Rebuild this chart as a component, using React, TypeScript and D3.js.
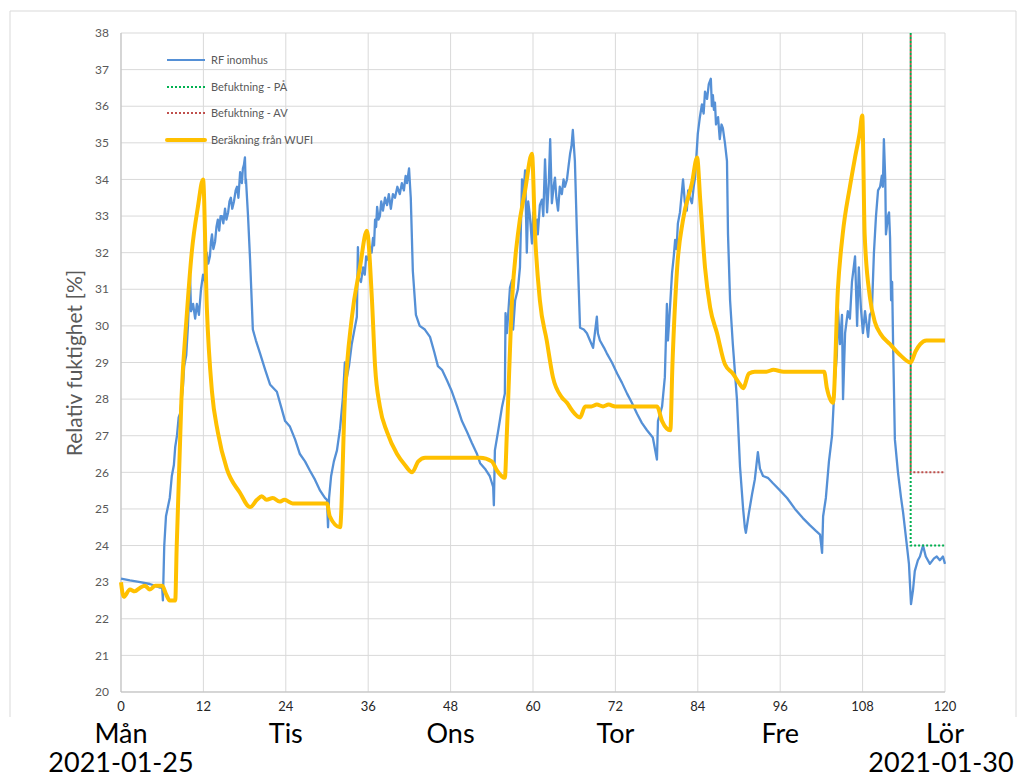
import React from "react";
import * as d3 from "d3";

// ---- Data ----
const xTicks = [0, 12, 24, 36, 48, 60, 72, 84, 96, 108, 120];
const yTicks = [20, 21, 22, 23, 24, 25, 26, 27, 28, 29, 30, 31, 32, 33, 34, 35, 36, 37, 38];
const dayLabels = [
  { h: 0, day: "Mån", date: "2021-01-25" },
  { h: 24, day: "Tis", date: "" },
  { h: 48, day: "Ons", date: "" },
  { h: 72, day: "Tor", date: "" },
  { h: 96, day: "Fre", date: "" },
  { h: 120, day: "Lör", date: "2021-01-30" },
];
const legendItems = ["RF inomhus", "Befuktning - PÅ", "Befuktning - AV", "Beräkning från WUFI"];

// RF inomhus [hour, %]
const rfInomhus: [number, number][] = [
  [0, 23.1], [1.3, 23.05], [2.8, 23.0], [4.2, 22.95], [5.7, 22.85], [6.0, 22.85], [6.1, 22.5], [6.3, 24.0],
  [6.55, 24.8], [7.1, 25.3], [7.4, 25.9], [7.7, 26.2], [7.9, 26.7], [8.15, 27.0], [8.4, 27.5], [8.6, 27.6],
  [9.0, 28.3], [9.2, 28.9], [9.5, 29.2], [9.75, 30.0], [10.05, 31.4], [10.2, 30.4], [10.5, 30.6], [10.8, 30.2],
  [11.05, 30.6], [11.35, 30.3], [11.65, 31.0], [11.95, 31.4], [12.25, 31.2], [12.4, 31.6], [12.5, 32.0],
  [12.7, 31.7], [12.95, 31.9], [13.1, 32.3], [13.25, 32.5], [13.45, 32.1], [13.7, 32.3], [13.9, 32.7],
  [14.1, 32.9], [14.3, 32.6], [14.5, 33.0], [14.7, 33.0], [14.9, 32.8], [15.15, 33.2], [15.35, 32.9],
  [15.6, 33.1], [15.8, 33.4], [16.0, 33.5], [16.2, 33.2], [16.45, 33.4], [16.7, 33.7], [16.9, 33.8],
  [17.1, 33.5], [17.35, 34.2], [17.6, 33.9], [17.75, 34.3], [17.9, 34.4], [18.05, 34.6], [18.15, 33.9],
  [18.2, 34.0], [18.5, 33.0], [18.8, 31.8], [19.2, 29.9],
  [19.65, 29.6], [20.25, 29.25], [21.0, 28.8], [21.7, 28.4], [22.7, 28.2], [23.3, 27.8], [23.9, 27.4],
  [24.6, 27.25], [25.35, 26.9], [26.05, 26.5], [26.8, 26.3], [27.5, 26.05], [28.25, 25.8], [29.0, 25.5],
  [29.7, 25.3], [30.0, 25.25], [30.15, 24.5], [30.3, 25.3], [30.6, 25.9], [31.0, 26.3], [31.45, 26.6],
  [31.9, 27.2], [32.3, 28.0], [32.6, 29.0], [32.9, 28.6], [33.2, 28.9], [33.6, 29.5], [34.1, 30.0],
  [34.35, 30.25], [34.5, 32.15], [34.65, 31.3], [34.95, 31.2], [35.25, 31.6], [35.5, 31.4], [35.7, 31.9],
  [36.0, 31.8], [36.25, 32.15], [36.5, 32.0], [36.7, 32.4], [36.85, 32.2], [37.0, 32.9], [37.15, 32.7],
  [37.3, 33.25], [37.5, 32.9], [37.7, 33.0], [37.9, 33.4], [38.15, 33.15], [38.45, 33.5], [38.75, 33.3],
  [39.0, 33.6], [39.3, 33.2], [39.6, 33.6], [39.9, 33.5], [40.25, 33.8], [40.6, 33.6], [40.9, 33.9],
  [41.2, 33.7], [41.45, 34.1], [41.65, 33.9], [41.95, 34.3], [42.1, 33.8], [42.2, 33.5],
  [42.5, 31.5], [42.95, 30.3], [43.5, 30.0], [44.25, 29.9], [45.0, 29.7], [45.6, 29.3], [46.15, 28.9],
  [46.75, 28.8], [47.5, 28.5], [48.2, 28.2], [48.95, 27.8], [49.65, 27.4], [50.4, 27.1], [51.1, 26.8],
  [51.85, 26.5], [52.3, 26.25], [53.0, 26.1], [53.7, 25.9], [54.2, 25.6], [54.3, 25.1], [54.45, 26.6],
  [54.9, 27.1], [55.5, 27.8], [55.9, 28.15], [56.0, 30.35], [56.2, 29.8], [56.65, 31.05], [56.95, 31.25],
  [57.1, 29.9], [57.4, 30.7], [57.8, 31.0], [58.1, 31.6], [58.4, 34.0], [58.6, 33.6], [58.85, 34.25],
  [59.1, 32.0], [59.3, 33.4], [59.55, 33.0], [59.85, 32.25], [60.05, 33.1], [60.3, 32.6], [60.6, 32.9],
  [60.7, 32.5], [61.0, 33.3], [61.3, 33.45], [61.5, 33.0], [61.75, 34.55], [62.05, 33.1], [62.3, 33.9],
  [62.5, 35.1], [62.75, 33.35], [63.0, 33.8], [63.2, 34.05], [63.4, 33.5], [63.65, 33.15], [63.9, 33.8],
  [64.2, 33.6], [64.45, 34.0], [64.65, 33.8], [64.95, 34.0], [65.2, 34.4], [65.4, 34.7], [65.6, 34.9],
  [65.8, 35.35], [66.1, 34.5], [66.4, 32.5], [66.85, 29.95], [67.4, 29.9],
  [67.85, 29.8], [68.3, 29.6], [68.75, 29.4], [69.3, 30.25], [69.45, 29.8], [69.75, 29.6], [70.35, 29.4],
  [70.75, 29.25], [71.5, 29.0], [72.25, 28.7], [72.95, 28.45], [73.7, 28.15], [74.4, 27.9], [75.15, 27.6],
  [75.85, 27.35], [76.6, 27.15], [77.45, 26.95], [78.05, 26.35], [78.2, 27.4], [78.8, 27.8], [79.2, 28.6],
  [79.5, 30.6], [79.65, 29.6], [79.95, 30.5], [80.25, 31.45], [80.5, 31.9], [80.7, 32.35], [80.9, 32.1],
  [81.1, 32.8], [81.4, 33.1], [81.6, 33.5], [81.85, 34.0], [82.1, 33.4], [82.4, 33.15], [82.6, 33.7],
  [82.85, 33.5], [83.15, 33.35], [83.4, 33.8], [83.6, 34.05], [84.0, 35.25], [84.3, 35.7], [84.6, 36.05],
  [84.85, 35.8], [85.05, 36.4], [85.35, 36.2], [85.6, 36.6], [85.9, 36.75], [86.05, 36.0], [86.2, 36.3],
  [86.35, 35.9], [86.5, 36.1], [86.65, 35.5], [86.95, 35.7], [87.2, 35.1], [87.45, 35.5], [87.65, 35.4],
  [87.95, 35.0], [88.25, 34.5], [88.4, 32.5], [88.7, 30.7],
  [89.1, 29.5], [89.7, 28.0], [90.15, 26.15], [90.6, 25.0], [90.85, 24.5], [91.0, 24.35], [91.45, 24.9],
  [91.9, 25.4], [92.3, 25.8], [92.75, 26.55], [93.05, 26.1], [93.5, 25.9], [94.2, 25.85], [94.95, 25.7],
  [96.0, 25.5], [97.0, 25.3], [98.15, 25.0], [99.3, 24.75], [100.35, 24.55], [101.2, 24.4], [101.8, 24.3],
  [102.1, 23.8], [102.25, 24.8], [102.65, 25.3], [103.1, 26.3], [103.55, 27.0], [103.95, 28.5],
  [104.25, 29.2], [104.4, 30.5], [104.7, 29.5], [105.0, 30.3], [105.15, 28.0], [105.45, 29.8],
  [105.85, 30.4], [106.15, 30.2], [106.45, 31.2], [106.9, 31.9], [107.2, 30.0], [107.45, 31.6],
  [107.75, 30.5], [108.05, 29.8], [108.35, 30.4], [108.8, 29.7], [109.05, 30.3], [109.35, 30.4],
  [109.65, 32.0], [109.95, 33.0], [110.25, 33.7], [110.55, 33.8], [110.8, 34.1], [110.95, 33.8],
  [111.1, 35.1], [111.3, 34.0], [111.4, 32.5], [111.7, 33.0], [111.85, 33.1], [112.0, 32.4], [112.15, 30.7],
  [112.3, 31.2], [112.45, 29.4], [112.7, 26.9], [113.15, 26.0], [113.6, 25.3], [113.9, 24.9], [114.45, 24.0],
  [114.75, 23.5], [115.05, 22.4], [115.35, 22.8], [115.6, 23.3], [116.05, 23.6], [116.35, 23.7],
  [116.8, 24.0], [117.2, 23.7], [117.8, 23.5], [118.4, 23.65], [118.8, 23.7], [119.25, 23.6], [119.7, 23.7],
  [120, 23.5],
];

// Beräkning från WUFI [hour, %]
const wufi: [number, number][] = [
  [0, 23.0], [0.4, 22.6], [1.3, 22.8], [2.0, 22.75], [2.8, 22.85], [3.5, 22.9], [4.2, 22.8], [5.0, 22.9],
  [6.0, 22.9], [6.5, 22.7], [7.1, 22.5], [7.9, 22.5], [8.1, 23.9], [8.8, 28.0], [9.6, 30.35], [10.3, 32.0],
  [11.2, 33.25], [11.95, 34.0], [12.5, 30.5], [13.25, 28.2], [14.1, 27.1], [15.4, 26.1], [17.3, 25.45],
  [18.8, 25.05], [19.8, 25.25], [20.5, 25.35], [21.2, 25.25], [22.1, 25.3], [23.1, 25.2], [23.8, 25.25],
  [25.0, 25.15], [30.0, 25.15], [30.4, 24.8], [31.9, 24.5], [32.6, 28.0], [33.6, 30.2], [34.8, 31.6],
  [35.8, 32.6], [36.55, 30.7], [37.0, 28.9], [37.7, 27.8], [38.75, 27.1], [40.2, 26.5], [41.35, 26.2],
  [42.4, 26.0], [43.3, 26.3], [44.3, 26.4], [52.3, 26.4], [54.0, 26.3], [54.75, 26.05], [55.9, 25.85],
  [56.2, 27.1], [56.95, 30.7], [57.8, 32.5], [58.85, 33.7], [59.85, 34.7], [60.3, 32.5], [61.0, 30.7],
  [62.0, 29.6], [62.9, 28.6], [64.2, 28.05], [64.95, 27.9], [65.65, 27.7], [66.85, 27.5], [67.6, 27.8],
  [68.5, 27.8], [69.3, 27.85], [70.2, 27.8], [71.0, 27.85], [72.0, 27.8], [78.05, 27.8], [78.8, 27.4],
  [80.0, 27.15], [80.3, 28.9], [81.0, 31.6], [81.85, 32.9], [83.15, 33.9], [83.9, 34.6], [84.35, 33.45],
  [85.05, 31.6], [85.8, 30.5], [86.8, 29.8], [87.95, 28.95], [89.1, 28.7], [90.15, 28.4], [90.6, 28.3],
  [91.45, 28.7], [92.3, 28.75], [94.0, 28.75], [95.0, 28.8], [96.5, 28.75], [102.4, 28.75], [102.8, 28.3],
  [103.7, 27.9], [104.4, 31.0], [105.1, 32.5], [106.15, 33.8], [106.9, 34.6], [107.6, 35.3], [107.95, 35.75],
  [108.3, 32.5], [109.05, 30.8], [109.8, 30.1], [110.55, 29.8], [112.0, 29.5], [113.5, 29.2], [115.0, 29.0],
  [115.7, 29.3], [116.4, 29.5], [117.3, 29.6], [120, 29.6],
];

const befuktningPa: [number, number][] = [[115, 38], [115, 24], [120, 24]];
const befuktningAv: [number, number][] = [[115, 38], [115, 26], [120, 26]];

const colors = {
  rf: "#5590D6",
  pa: "#00B050",
  av: "#C0504D",
  wufi: "#FFC000",
};

export default function App() {
  const W = 1019;
  const H = 779;
  const x = d3.scaleLinear().domain([0, 120]).range([121, 945]);
  const y = d3.scaleLinear().domain([20, 38]).range([692, 33]);

  const lineLin = d3.line<[number, number]>().x((d) => x(d[0])).y((d) => y(d[1]));
  const lineSmooth = d3
    .line<[number, number]>()
    .x((d) => x(d[0]))
    .y((d) => y(d[1]))
    .curve(d3.curveMonotoneX);

  const font = "Lato, 'Open Sans', sans-serif";
  const legendY = [60, 87, 113, 140];

  return (
    <svg
      width={W}
      height={H}
      style={{ position: "absolute", left: 0, top: 0, background: "#fff" }}
      fontFamily={font}
    >
      {/* outer chart border */}
      <path d="M10,717 L10,11 L1016,11 L1016,717" fill="none" stroke="#D9D9D9" strokeWidth={1} />

      {/* gridlines */}
      {yTicks.map((t) => (
        <line key={"gy" + t} x1={x(0)} x2={x(120)} y1={y(t)} y2={y(t)} stroke="#D9D9D9" strokeWidth={1} />
      ))}
      {xTicks.map((t) => (
        <line key={"gx" + t} x1={x(t)} x2={x(t)} y1={y(20)} y2={y(38)} stroke="#D9D9D9" strokeWidth={1} />
      ))}
      {/* axes lines */}
      <line x1={x(0)} x2={x(0)} y1={y(20)} y2={y(38)} stroke="#BFBFBF" strokeWidth={1} />
      <line x1={x(0)} x2={x(120)} y1={y(20)} y2={y(20)} stroke="#BFBFBF" strokeWidth={1} />

      {/* y tick labels */}
      {yTicks.map((t) => (
        <text key={"ty" + t} x={109} y={y(t)} dy="0.35em" textAnchor="end" fontSize={12} fill="#595959">
          {t}
        </text>
      ))}
      {/* x tick labels */}
      {xTicks.map((t) => (
        <text key={"tx" + t} x={x(t)} y={711} textAnchor="middle" fontSize={13} fill="#262626">
          {t}
        </text>
      ))}

      {/* y axis title */}
      <text transform={`translate(82,363) rotate(-90)`} textAnchor="middle" fontSize={21} fill="#595959">
        Relativ fuktighet [%]
      </text>

      {/* day labels */}
      {dayLabels.map((d) => (
        <g key={d.day}>
          <text x={x(d.h)} y={743} textAnchor="middle" fontSize={27} fill="#000">
            {d.day}
          </text>
          {d.date && (
            <text x={x(d.h) - (d.h === 120 ? 4 : 0)} y={772} textAnchor="middle" fontSize={27} fill="#000">
              {d.date}
            </text>
          )}
        </g>
      ))}

      {/* series */}
      <path d={lineLin(rfInomhus) || ""} fill="none" stroke={colors.rf} strokeWidth={2.3} strokeLinejoin="round" />
      <path d={lineLin(befuktningPa) || ""} fill="none" stroke={colors.pa} strokeWidth={2} strokeDasharray="2,2" />
      <path
        d={lineLin(befuktningAv) || ""}
        fill="none"
        stroke={colors.av}
        strokeWidth={2}
        strokeDasharray="2,2"
        strokeDashoffset={2}
      />
      <path d={lineSmooth(wufi) || ""} fill="none" stroke={colors.wufi} strokeWidth={4} strokeLinejoin="round" />

      {/* legend */}
      {legendItems.map((name, i) => {
        const ly = legendY[i];
        const stroke = [colors.rf, colors.pa, colors.av, colors.wufi][i];
        return (
          <g key={name}>
            <line
              x1={167}
              x2={205}
              y1={ly}
              y2={ly}
              stroke={stroke}
              strokeWidth={i === 3 ? 4 : 2}
              strokeDasharray={i === 1 || i === 2 ? "2,2" : undefined}
              strokeLinecap={i === 3 ? "round" : "butt"}
            />
            <text x={211} y={ly} dy="0.35em" fontSize={11} fill="#595959">
              {name}
            </text>
          </g>
        );
      })}
    </svg>
  );
}
